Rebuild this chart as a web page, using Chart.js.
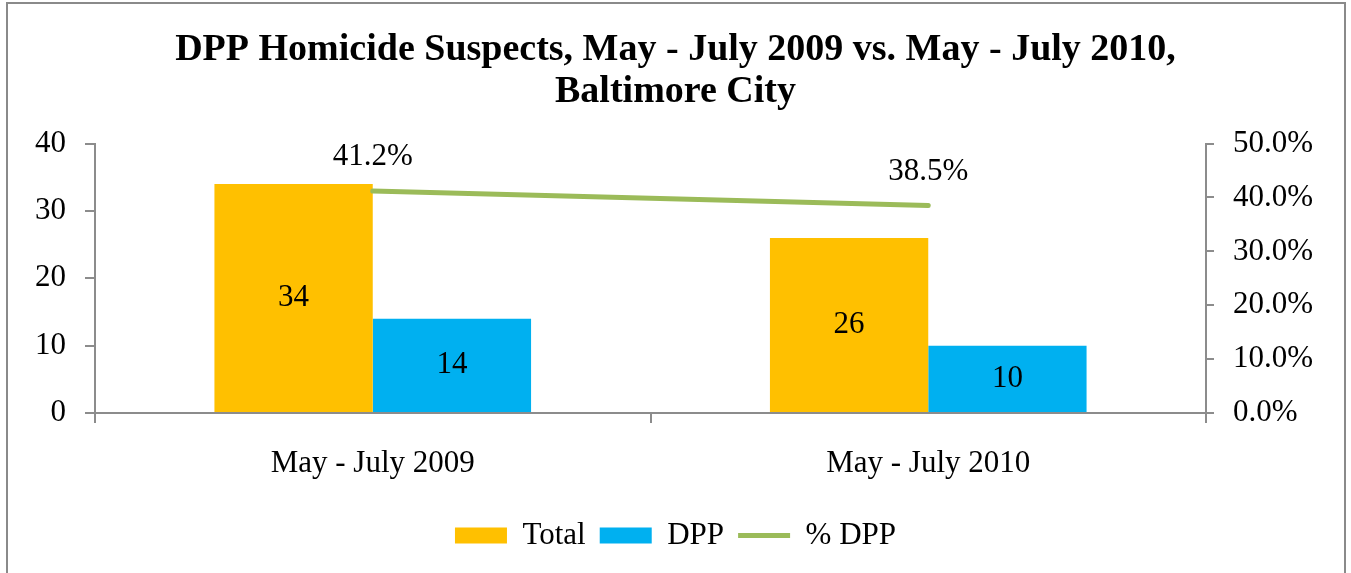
<!DOCTYPE html>
<html><head><meta charset="utf-8">
<script src="https://cdn.jsdelivr.net/npm/chart.js@4"></script>
<style>html,body{margin:0;padding:0;background:#fff;overflow:hidden}</style>
</head><body>
<canvas id="c" width="1351" height="573" style="display:block;width:1351px;height:573px"></canvas>
<script>
const categories = ['May - July 2009', 'May - July 2010'];
const totalValues = [34, 26];
const dppValues = [14, 10];
const pctDppValues = [0.412, 0.385];
const leftAxis = { min: 0, max: 40, step: 10 };
const rightAxis = { min: 0, max: 0.5, step: 0.1 };
const titleLines = ['DPP Homicide Suspects, May - July 2009 vs. May - July 2010,', 'Baltimore City'];
const seriesNames = ['Total', 'DPP', '% DPP'];

const FONT = '"Liberation Serif", "Times New Roman", serif';
const AXIS = '#8c8c8c';
const TXT = 31;

const frame = {
  id: 'frame',
  beforeDraw(chart) {
    const ctx = chart.ctx;
    ctx.save();
    ctx.fillStyle = '#fff';
    ctx.fillRect(0, 0, chart.width, chart.height);
    ctx.strokeStyle = '#8a8a8a';
    ctx.lineWidth = 2;
    ctx.strokeRect(7, 3, 1338, 640);
    ctx.restore();
  }
};

const valueLabels = {
  id: 'valueLabels',
  afterDatasetsDraw(chart) {
    const ctx = chart.ctx;
    ctx.save();
    ctx.font = TXT + 'px ' + FONT;
    ctx.fillStyle = '#000';
    ctx.textAlign = 'center';
    ctx.textBaseline = 'middle';
    chart.data.datasets.forEach((ds, i) => {
      const meta = chart.getDatasetMeta(i);
      meta.data.forEach((el, j) => {
        const v = ds.data[j];
        if (ds.type === 'line') {
          ctx.fillText((v * 100).toFixed(1) + '%', el.x, el.y - 34);
        } else {
          ctx.fillText(String(v), el.x, (el.y + el.base) / 2);
        }
      });
    });
    ctx.restore();
  }
};

new Chart(document.getElementById('c'), {
  data: {
    labels: categories,
    datasets: [
      { type: 'bar', label: seriesNames[0], data: totalValues, backgroundColor: '#FFC000', borderWidth: 0, yAxisID: 'y', order: 2, pointStyle: 'rect' },
      { type: 'bar', label: seriesNames[1], data: dppValues, backgroundColor: '#00B0F0', borderWidth: 0, yAxisID: 'y', order: 2, pointStyle: 'rect' },
      { type: 'line', label: seriesNames[2], data: pctDppValues, borderColor: '#9BBB59', backgroundColor: '#9BBB59', borderWidth: 5, borderCapStyle: 'round', pointRadius: 0, pointStyle: 'line', yAxisID: 'y1', order: 1 }
    ]
  },
  options: {
    responsive: false,
    animation: false,
    devicePixelRatio: 1,
    categoryPercentage: 0.57,
    barPercentage: 1.0,
    layout: { padding: { top: 29, bottom: 12, left: 0, right: 0 } },
    plugins: {
      title: {
        display: true,
        text: titleLines,
        color: '#000',
        font: { family: FONT, size: 38, weight: 'bold', lineHeight: 1.1 },
        padding: { top: 0, bottom: 31 }
      },
      legend: {
        display: true,
        position: 'bottom',
        labels: {
          usePointStyle: true,
          pointStyleWidth: 52,
          boxHeight: 16,
          boxWidth: 52,
          padding: 14,
          color: '#000',
          font: { family: FONT, size: TXT },
          sort: (a, b) => a.datasetIndex - b.datasetIndex
        }
      },
      tooltip: { enabled: false }
    },
    scales: {
      x: {
        offset: true,
        grid: { offset: true, drawOnChartArea: false, tickLength: 10, color: AXIS, lineWidth: 2 },
        border: { display: true, color: AXIS, width: 2 },
        ticks: { color: '#000', font: { family: FONT, size: TXT }, padding: 22, maxRotation: 0 },
        afterFit(s) { s.height = 93; }
      },
      y: {
        position: 'left',
        min: leftAxis.min, max: leftAxis.max,
        ticks: { stepSize: leftAxis.step, color: '#000', font: { family: FONT, size: TXT }, padding: 19 },
        grid: { drawOnChartArea: false, tickLength: 10, color: AXIS, lineWidth: 2 },
        border: { display: true, color: AXIS, width: 2 },
        afterFit(s) { s.width = 95; }
      },
      y1: {
        position: 'right',
        min: rightAxis.min, max: rightAxis.max,
        ticks: { stepSize: rightAxis.step, color: '#000', font: { family: FONT, size: TXT }, padding: 19,
          callback: v => (v * 100).toFixed(1) + '%' },
        grid: { drawOnChartArea: false, tickLength: 8, color: AXIS, lineWidth: 2 },
        border: { display: true, color: AXIS, width: 2 },
        afterFit(s) { s.width = 145; }
      }
    }
  },
  plugins: [frame, valueLabels]
});
</script>
</body></html>
